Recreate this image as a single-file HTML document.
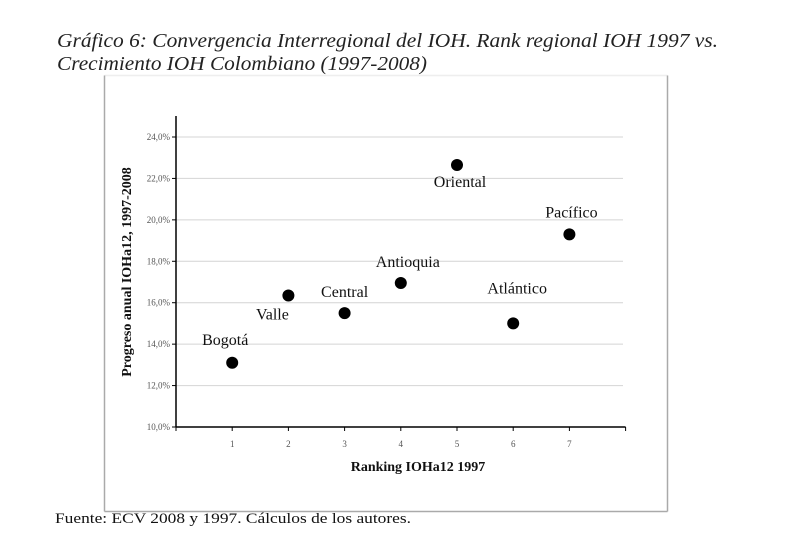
<!DOCTYPE html>
<html><head><meta charset="utf-8"><style>
html,body{margin:0;padding:0;background:#fff;}
svg{display:block;font-family:"Liberation Serif",serif;}
</style></head><body>
<svg width="788" height="539" viewBox="0 0 788 539">
<text x="57" y="47" font-size="20" font-style="italic" fill="#222" textLength="661" lengthAdjust="spacingAndGlyphs">Gráfico 6: Convergencia Interregional del IOH. Rank regional IOH 1997 vs.</text>
<text x="57" y="70" font-size="20" font-style="italic" fill="#222" textLength="370" lengthAdjust="spacingAndGlyphs">Crecimiento IOH Colombiano (1997-2008)</text>
<g>
<line x1="104.5" y1="75.5" x2="667.5" y2="75.5" stroke="#eee" stroke-width="1.5"/>
<line x1="104.5" y1="75.5" x2="104.5" y2="511.5" stroke="#aaa" stroke-width="1.5"/>
<line x1="667.5" y1="75.5" x2="667.5" y2="511.5" stroke="#aaa" stroke-width="1.5"/>
<line x1="104.5" y1="511.5" x2="667.5" y2="511.5" stroke="#aaa" stroke-width="1.5"/>
</g>
<g id="plot"></g>
<text x="418" y="471" font-size="14" font-weight="bold" text-anchor="middle" fill="#111">Ranking IOHa12 1997</text>
<text transform="translate(131,272) rotate(-90)" font-size="14" font-weight="bold" text-anchor="middle" fill="#111">Progreso anual IOHa12, 1997-2008</text>
<text x="55" y="523" font-size="15" fill="#111" textLength="356" lengthAdjust="spacingAndGlyphs">Fuente: ECV 2008 y 1997. Cálculos de los autores.</text>
</svg>
<script>
const regions = ["Bogotá","Valle","Central","Antioquia","Oriental","Atlántico","Pacífico"];
const ranks = [1,2,3,4,5,6,7];
const growth = [13.1,16.35,15.5,16.95,22.65,15.0,19.3];
const yTicks = [10,12,14,16,18,20,22,24];
const xTicks = [1,2,3,4,5,6,7];
// label offsets (layout only)
const labelDx = [-7,-16,0,7,3,4,2];
const labelDy = [-23,19,-21,-21,17,-35,-22];

const NS="http://www.w3.org/2000/svg";
const g=document.getElementById('plot');
const x0=176, x1=625.6, xMin=0, xMax=8;
const yTop=137, yBot=427, yMin=10, yMax=24;
const X=v=>x0+(v-xMin)/(xMax-xMin)*(x1-x0);
const Y=v=>yBot-(v-yMin)/(yMax-yMin)*(yBot-yTop);
function mk(t,a){const e=document.createElementNS(NS,t);for(const k in a)e.setAttribute(k,a[k]);g.appendChild(e);return e;}

yTicks.forEach(t=>{
  if(t>yMin){const l=mk('line',{x1:x0,x2:623,y1:Y(t),y2:Y(t),stroke:'#d4d4d4','stroke-width':1});
  
  }
  const tk=mk('line',{x1:x0-4,x2:x0,y1:Y(t),y2:Y(t),stroke:'#000'});
  
  
  const tx=mk('text',{x:x0-6,y:Y(t)+3,'font-size':9,'text-anchor':'end',fill:'#555'});
  tx.textContent=t.toFixed(1).replace('.',',')+'%';
  
  
});
const ya=mk('line',{x1:x0,x2:x0,y1:116,y2:yBot,stroke:'#000','stroke-width':1.5});


const xa=mk('line',{x1:x0,x2:x1,y1:yBot,y2:yBot,stroke:'#000','stroke-width':1.5});


for(let i=xMin;i<=xMax;i++){
  const tk=mk('line',{x1:X(i),x2:X(i),y1:yBot,y2:yBot+4,stroke:'#000'});
  
  
}
xTicks.forEach(t=>{
  const tx=mk('text',{x:X(t),y:yBot+20,'font-size':9,'text-anchor':'middle',fill:'#555'});
  tx.textContent=t;
  
  
});
regions.forEach((r,i)=>{
  const c=mk('circle',{cx:X(ranks[i]),cy:Y(growth[i]),r:6,fill:'#000'});
  
  
  const t=mk('text',{x:X(ranks[i])+labelDx[i],y:Y(growth[i])+labelDy[i]+5,'font-size':16,'text-anchor':'middle',fill:'#111'});
  t.textContent=r;
  
  
});
</script>
</body></html>
